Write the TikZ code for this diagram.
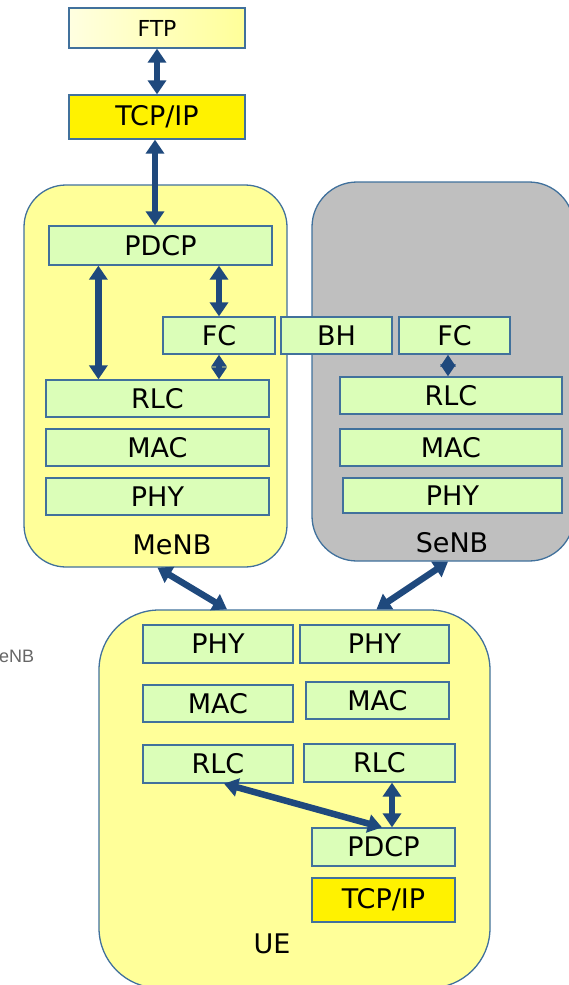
\documentclass[tikz,border=0pt]{standalone}
\usepackage{fontspec}
\setmainfont{DejaVu Sans}
\newfontfamily\arialfont{Liberation Sans}
\usetikzlibrary{arrows.meta}
\definecolor{bord}{HTML}{41719C}
\definecolor{arr}{HTML}{1F497D}
\definecolor{lgreen}{HTML}{DBFEB8}
\definecolor{lyel}{HTML}{FFFF99}
\definecolor{sgray}{HTML}{BFBFBF}
\tikzset{
  layer/.style={draw=bord, line width=1.3pt, fill=lgreen, inner sep=0pt, font=\fontsize{27}{27}\selectfont},
  yelbox/.style={layer, fill=yellow},
  cont/.style={draw=bord, line width=1.3pt, inner sep=0pt},
  lbl/.style={inner sep=0pt, font=\fontsize{27}{27}\selectfont},
  dar/.style={draw=arr, line width=6.5pt, {Triangle[width=18pt,length=14pt]}-{Triangle[width=18pt,length=14pt]}},
  sdar/.style={draw=arr, line width=6pt, {Triangle[width=15pt,length=12pt]}-{Triangle[width=15pt,length=12pt]}},
}
\begin{document}
\begin{tikzpicture}[x=1pt,y=-1pt]
\useasboundingbox (0,0) rectangle (569,985);
% containers
\node[cont, fill=lyel, rounded corners=42pt, minimum width=263pt, minimum height=382pt] (menb) at (155.5,376) {};
\node[cont, fill=sgray, rounded corners=45pt, minimum width=262pt, minimum height=379pt] (senb) at (443,371.5) {};
\node[cont, fill=lyel, rounded corners=60pt, minimum width=391pt, minimum height=378pt] (ue) at (294.5,799) {};
% top stack
\node[layer, shading=axis, left color=yellow!12, right color=lyel, minimum width=176pt, minimum height=40pt, font=\fontsize{22}{22}\selectfont] (ftp) at (157,28) {FTP};
\node[yelbox, minimum width=176pt, minimum height=44pt] (tcp) at (157,117) {TCP/IP};
% MeNB
\node[layer, minimum width=223pt, minimum height=39pt] (mpdcp) at (160.5,245.5) {PDCP};
\node[layer, minimum width=112pt, minimum height=37pt] (mfc) at (219,335.5) {FC};
\node[layer, minimum width=111pt, minimum height=37pt] (bh) at (336.5,335.5) {BH};
\node[layer, minimum width=111pt, minimum height=37pt] (sfc) at (454.5,335.5) {FC};
\node[layer, minimum width=223pt, minimum height=37pt] (mrlc) at (157.5,398.5) {RLC};
\node[layer, minimum width=223pt, minimum height=37pt] (mmac) at (157.5,447.5) {MAC};
\node[layer, minimum width=223pt, minimum height=37pt] (mphy) at (157.5,496.5) {PHY};
\node[lbl] (menbl) at (172,545) {MeNB};
% SeNB
\node[layer, minimum width=222pt, minimum height=37pt] (srlc) at (451,395.5) {RLC};
\node[layer, minimum width=222pt, minimum height=37pt] (smac) at (451,447.5) {MAC};
\node[layer, minimum width=219pt, minimum height=35pt] (sphy) at (452.5,495.5) {PHY};
\node[lbl] (senbl) at (452,543) {SeNB};
% UE
\node[layer, minimum width=150pt, minimum height=38pt] (uphyl) at (218,644) {PHY};
\node[layer, minimum width=149pt, minimum height=38pt] (uphyr) at (374.5,644) {PHY};
\node[layer, minimum width=150pt, minimum height=37pt] (umacl) at (218,703.5) {MAC};
\node[layer, minimum width=143pt, minimum height=37pt] (umacr) at (377.5,700.5) {MAC};
\node[layer, minimum width=150pt, minimum height=38pt] (urlcl) at (218,764) {RLC};
\node[layer, minimum width=151pt, minimum height=38pt] (urlcr) at (379.5,763) {RLC};
\node[layer, minimum width=143pt, minimum height=38pt] (updcp) at (383.5,847) {PDCP};
\node[yelbox, minimum width=143pt, minimum height=44pt] (utcp) at (383.5,900) {TCP/IP};
\node[lbl] (uel) at (272,944) {UE};
% stray text
\node[inner sep=0pt, anchor=west, text=black!60, font=\arialfont\fontsize{18}{18}\selectfont] (enb) at (-1,656) {eNB};
% arrows
\draw[dar] (ftp.south) -- (tcp.north);
\draw[dar] (tcp.south -| 155,0) -- (mpdcp.north -| 155,0);
\draw[dar] ([xshift=50pt]mpdcp.south west) -- ([xshift=53pt]mrlc.north west);
\draw[dar] (mpdcp.south -| mfc.north) -- (mfc.north);
\draw[sdar] (mfc.south) -- (mfc.south |- mrlc.north);
\draw[sdar] ([xshift=-6.5pt]sfc.south) -- ([xshift=-6.5pt]sfc.south |- srlc.north);
\draw[dar] ([xshift=2pt]menb.south) -- ([xshift=-67.5pt]ue.north);
\draw[dar] ([xshift=5pt]senb.south) -- ([xshift=82pt]ue.north);
\draw[dar] ([xshift=6pt]urlcl.south) -- ([xshift=-1.5pt]updcp.north);
\draw[dar] ([xshift=12.5pt]urlcr.south) -- ([xshift=8.5pt]updcp.north);
\end{tikzpicture}
\end{document}
